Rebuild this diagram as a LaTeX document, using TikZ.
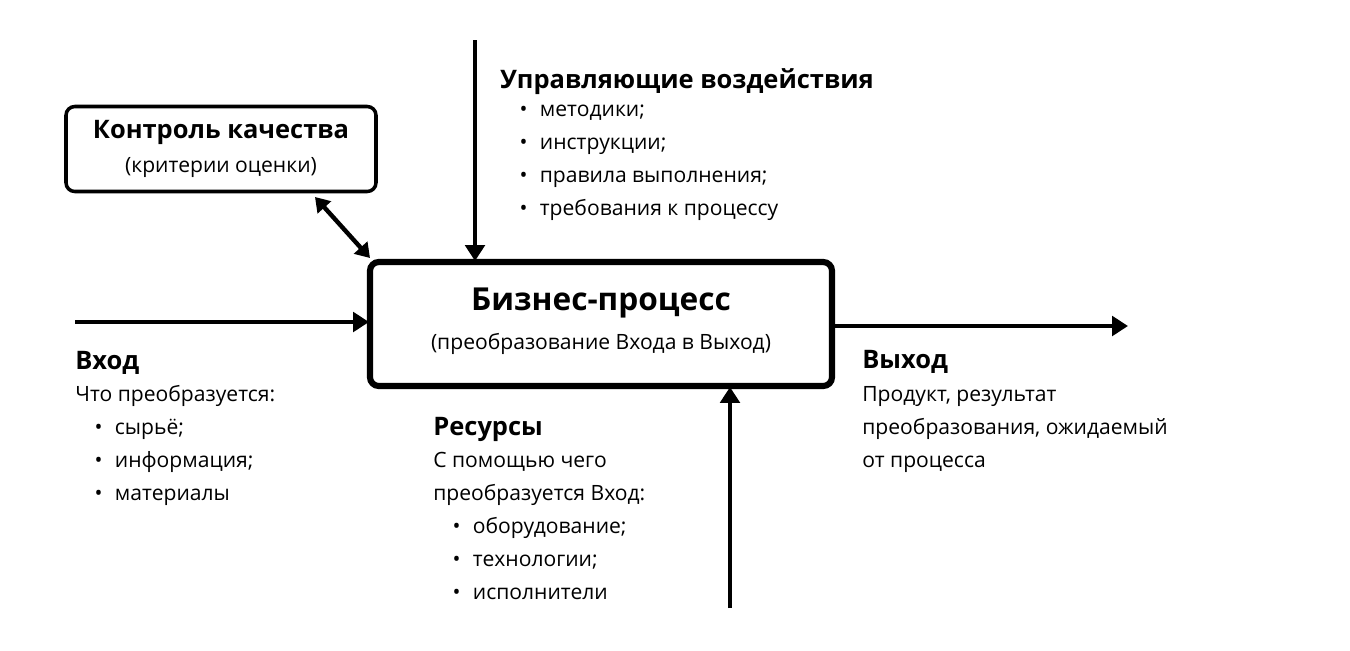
\documentclass[tikz,border=0pt]{standalone}
\usepackage{fontspec}
\setmainfont{Open Sans}
\usetikzlibrary{arrows.meta}
\newcommand{\bul}{\hspace*{11pt}\textbullet\hspace{7pt}}
\begin{document}
\begin{tikzpicture}[x=0.02cm, y=-0.02cm,
  box/.style={draw, rounded corners=5pt},
  head/.style={anchor=west, inner sep=0pt, font=\fontsize{14.5}{18}\selectfont\bfseries},
  body/.style={anchor=north west, inner sep=0pt, align=left, font=\fontsize{12}{18.7}\selectfont},
  arr/.style={line width=2.5pt, -{Triangle[length=9pt, width=11pt]}}]
  \useasboundingbox (0,0) rectangle (1350,650);

  % main process
  \node[box, line width=3.5pt, minimum width=462*0.02cm, minimum height=124*0.02cm] (proc) at (601,324) {};
  \node[font=\fontsize{18}{22}\selectfont\bfseries] (title) at (601,303) {Бизнес-процесс};
  \node[font=\fontsize{12}{15}\selectfont] (sub) at (601,344) {(преобразование Входа в Выход)};

  % quality control
  \node[box, line width=2pt, minimum width=310*0.02cm, minimum height=85*0.02cm, align=center,
        font=\fontsize{12}{15}\selectfont] (qc) at (221,149)
        {{\fontsize{14.5}{18}\selectfont\bfseries Контроль качества}\\[4pt](критерии оценки)};
  \draw[line width=2.5pt, {Triangle[length=8pt, width=10pt]}-{Triangle[length=8pt, width=10pt]}] (315,197) -- (370,258);

  % arrows
  \coordinate (ctop) at (475,40);
  \coordinate (cin) at (75,322);
  \coordinate (cout) at (1128,326);
  \coordinate (cbot) at (730,608);
  \draw[arr] (ctop) -- (475,261);
  \draw[arr] (cin) -- (369,322);
  \draw[arr] (832,326) -- (cout);
  \draw[arr] (cbot) -- (730,387);

  % labels
  \node[head] (hctrl) at (500,82) {Управляющие воздействия};
  \node[body] (bctrl) at (500,105) {\bul методики;\\ \bul инструкции;\\ \bul правила выполнения;\\ \bul требования к процессу};

  \node[head] (hin) at (75,363) {Вход};
  \node[body] (bin) at (75,385) {Что преобразуется:\\ \bul сырьё;\\ \bul информация;\\ \bul материалы};

  \node[head] (hres) at (433,429) {Ресурсы};
  \node[body] (bres) at (433,452) {С помощью чего\\ преобразуется Вход:\\ \bul оборудование;\\ \bul технологии;\\ \bul исполнители};

  \node[head] (hout) at (862,362) {Выход};
  \node[body] (bout) at (862,386) {Продукт, результат\\ преобразования, ожидаемый\\ от процесса};
\end{tikzpicture}
\end{document}
